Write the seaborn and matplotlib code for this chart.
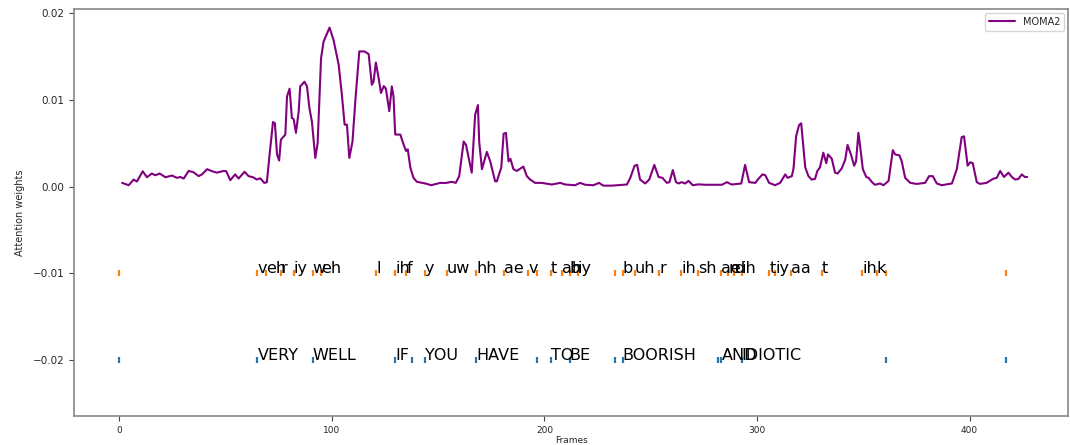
import matplotlib
matplotlib.use("Agg")
import matplotlib.pyplot as plt
import seaborn as sns
import pandas as pd

# ---- attention curve (frame, weight) ----
frames = [1.3, 4.4, 6.7, 8.3, 11.0, 13.0, 15.3, 16.9, 19.0, 21.7, 24.8, 27.1, 28.7, 30.3,
          32.6, 34.9, 37.3, 38.9, 41.3, 43.7, 45.9, 49.1, 50.3, 52.2, 54.5, 56.1, 58.9,
          60.8, 62.9, 64.7, 66.3, 68.2, 69.4, 70.7, 72.3, 73.2, 74.2, 75.2, 76.0, 78.1,
          78.9, 80.1, 81.2, 82.0, 83.1, 84.4, 85.1, 87.1, 88.3, 89.4, 90.6, 92.2, 93.3,
          94.9, 96.1, 98.9, 100.8, 103.2, 104.7, 106.0, 107.1, 108.2, 109.7, 111.0,
          112.9, 115.3, 117.3, 118.8, 119.6, 120.7, 122.0, 123.1, 124.4, 125.4, 127.0,
          128.2, 129.0, 129.8, 132.2, 133.8, 134.9, 135.7, 136.9, 138.4, 140.0, 144.0,
          146.7, 151.0, 153.4, 156.4, 158.3, 159.9, 162.0, 163.1, 164.2, 165.8, 167.4,
          168.7, 169.3, 170.6, 172.9, 174.5, 176.8, 177.6, 179.7, 180.8, 181.9, 183.1,
          184.0, 185.4, 187.0, 190.1, 191.7, 193.3, 195.6, 198.7, 200.4, 203.5, 207.4,
          209.8, 214.4, 216.8, 219.2, 223.1, 225.7, 227.7, 231.7, 238.8, 240.4, 242.4,
          243.6, 245.0, 247.4, 249.3, 251.7, 253.7, 255.5, 257.6, 258.8, 260.4, 261.9,
          263.1, 264.6, 266.2, 267.8, 269.8, 272.5, 275.6, 283.5, 285.8, 288.1, 292.6,
          294.4, 296.3, 299.2, 300.7, 302.6, 303.9, 305.7, 308.5, 310.9, 313.3, 314.4,
          316.4, 317.2, 318.4, 319.8, 320.8, 322.7, 324.2, 325.7, 327.3, 328.4, 329.6,
          331.2, 332.6, 333.4, 335.2, 336.7, 337.9, 339.9, 341.5, 342.6, 344.2, 345.7,
          346.6, 347.7, 348.5, 349.8, 351.4, 352.5, 354.1, 355.5, 357.9, 359.5, 361.9,
          363.9, 365.0, 367.0, 368.1, 369.7, 372.1, 375.1, 379.1, 381.0, 382.7, 384.6,
          386.9, 391.7, 394.0, 396.3, 397.4, 399.1, 400.3, 401.5, 403.4, 404.9, 408.0,
          411.2, 412.8, 414.4, 416.2, 418.3, 419.9, 421.5, 423.0, 424.6, 426.0, 427.1]
weights = [0.00042, 0.00015, 0.0008, 0.00058, 0.00176, 0.00107, 0.0015, 0.0013, 0.0015,
           0.00107, 0.00127, 0.001, 0.0011, 0.00092, 0.0018, 0.00165, 0.0012, 0.0014,
           0.002, 0.00176, 0.0016, 0.0018, 0.00176, 0.00073, 0.0014, 0.00092, 0.0017,
           0.0012, 0.00107, 0.0008, 0.00095, 0.00042, 0.00049, 0.0037, 0.00745, 0.0073,
           0.0037, 0.003, 0.0054, 0.006, 0.0104, 0.0113, 0.0079, 0.0078, 0.0062, 0.0087,
           0.01156, 0.0121, 0.01156, 0.0091, 0.0075, 0.0033, 0.005, 0.0148, 0.01674,
           0.01835, 0.0169, 0.01406, 0.0106, 0.00714, 0.00714, 0.0033, 0.0052, 0.0098,
           0.0156, 0.0156, 0.0153, 0.01175, 0.0121, 0.01432, 0.0125, 0.0108, 0.0116,
           0.0113, 0.0087, 0.01156, 0.0104, 0.006, 0.006, 0.0048, 0.0041, 0.0043, 0.0022,
           0.001, 0.00054, 0.00035, 0.00015, 0.00042, 0.0004, 0.00054, 0.00042, 0.0012,
           0.0052, 0.0048, 0.0035, 0.0016, 0.0083, 0.0094, 0.0052, 0.002, 0.004, 0.0029,
           0.0006, 0.0006, 0.0022, 0.0061, 0.0062, 0.0029, 0.0032, 0.002, 0.0018, 0.0023,
           0.0012, 0.0008, 0.00042, 0.00042, 0.00035, 0.00023, 0.00042, 0.00023, 0.00015,
           0.00042, 0.0002, 0.00015, 0.00042, 0.0001, 0.0001, 0.00023, 0.001, 0.0024,
           0.0025, 0.0008, 0.00035, 0.0008, 0.0025, 0.0011, 0.001, 0.00042, 0.0005,
           0.0019, 0.0005, 0.00035, 0.0005, 0.00035, 0.00065, 0.00015, 0.00025, 0.0002,
           0.0002, 0.0005, 0.00023, 0.00035, 0.0025, 0.0005, 0.00042, 0.0009, 0.0014,
           0.0013, 0.00042, 0.00015, 0.00042, 0.0014, 0.001, 0.0012, 0.0021, 0.0058,
           0.0071, 0.0073, 0.0022, 0.0012, 0.0008, 0.00088, 0.0018, 0.0022, 0.0039,
           0.0027, 0.0037, 0.0032, 0.0016, 0.0015, 0.0021, 0.0031, 0.0048, 0.0037,
           0.0024, 0.0029, 0.0062, 0.0047, 0.002, 0.0011, 0.001, 0.0005, 0.0002, 0.00035,
           0.00015, 0.00065, 0.0042, 0.0037, 0.0036, 0.0029, 0.001, 0.00042, 0.0003,
           0.00042, 0.0012, 0.0012, 0.00035, 0.00015, 0.00035, 0.002, 0.0057, 0.0058,
           0.0024, 0.0028, 0.0027, 0.0005, 0.0003, 0.00042, 0.0009, 0.001, 0.0018, 0.0011,
           0.0016, 0.0011, 0.0008, 0.00088, 0.0014, 0.0011, 0.0011]

# ---- phoneme alignment ----
phone_labels = ["", "v", "eh", "r", "iy", "w", "eh", "l", "ih", "f", "y", "uw", "hh", "ae",
                "v", "", "t", "ah", "b", "iy", "", "b", "uh", "r", "ih", "sh", "ae", "n",
                "d", "ih", "t", "iy", "aa", "t", "ih", "k", "", ""]
phone_starts = [0, 65.0, 69.0, 76.0, 82.0, 90.9, 94.8, 120.9, 129.7, 135.0, 143.7, 154.1,
                167.9, 180.9, 192.5, 196.7, 203.0, 208.1, 211.9, 215.7, 233.3, 236.9,
                242.4, 253.9, 264.4, 272.3, 283.3, 286.4, 289.2, 292.8, 305.8, 308.7,
                316.2, 330.4, 349.5, 356.4, 360.9, 417.0]

# ---- word alignment ----
word_labels = ["", "VERY", "WELL", "IF", "", "YOU", "HAVE", "", "TO", "BE", "", "BOORISH",
               "", "AND", "IDIOTIC", "", ""]
word_starts = [0, 65.0, 90.9, 129.7, 137.9, 143.7, 167.9, 196.7, 203.0, 211.9, 233.3,
               236.9, 281.8, 283.3, 292.8, 360.9, 417.0]

PHONE_Y = -0.01
WORD_Y = -0.02

sns.set_style("white")
plt.rcParams["font.family"] = ["DejaVu Sans"]

fig, ax = plt.subplots(figsize=(10.7, 4.45), dpi=100)
fig.subplots_adjust(left=0.0696, right=0.9981, bottom=0.0652, top=0.9798)

df = pd.DataFrame({"Frames": frames, "w": weights})
sns.lineplot(data=df, x="Frames", y="w", color="#800080", linewidth=1.5,
             label="MOMA2", ax=ax)

sns.scatterplot(x=phone_starts, y=[PHONE_Y] * len(phone_starts), marker="|", s=20,
                color="#ff7f0e", linewidth=1.6, ax=ax, legend=False)
sns.scatterplot(x=word_starts, y=[WORD_Y] * len(word_starts), marker="|", s=20,
                color="#1f77b4", linewidth=1.6, ax=ax, legend=False)

for lab, st in zip(phone_labels, phone_starts):
    if lab:
        ax.text(st, PHONE_Y, lab, fontsize=11.5, ha="left", va="baseline", color="black")
for lab, st in zip(word_labels, word_starts):
    if lab:
        ax.text(st, WORD_Y, lab, fontsize=11.5, ha="left", va="baseline", color="black")

ax.set_xlim(-21.1, 446.3)
ax.set_ylim(-0.0265, 0.0205)
ax.set_xticks([0, 100, 200, 300, 400])
ax.set_yticks([-0.02, -0.01, 0.0, 0.01, 0.02])
ax.set_yticklabels(["\u22120.02", "\u22120.01", "0.00", "0.01", "0.02"])
ax.tick_params(axis="y", labelsize=7.5, length=3.5, width=0.8, left=True, color="#444444")
ax.tick_params(axis="x", labelsize=6.5, length=3.5, width=0.8, bottom=True, color="#444444")
ax.set_xlabel("Frames", fontsize=6.5, labelpad=1)
ax.set_ylabel("Attention weights", fontsize=7, labelpad=6)

for sp in ax.spines.values():
    sp.set_color("#888888")
    sp.set_linewidth(1.2)

ax.legend(loc="upper right", fontsize=7, handlelength=2.7, frameon=True,
          borderaxespad=0.4)

fig.savefig("out.png", dpi=100)
